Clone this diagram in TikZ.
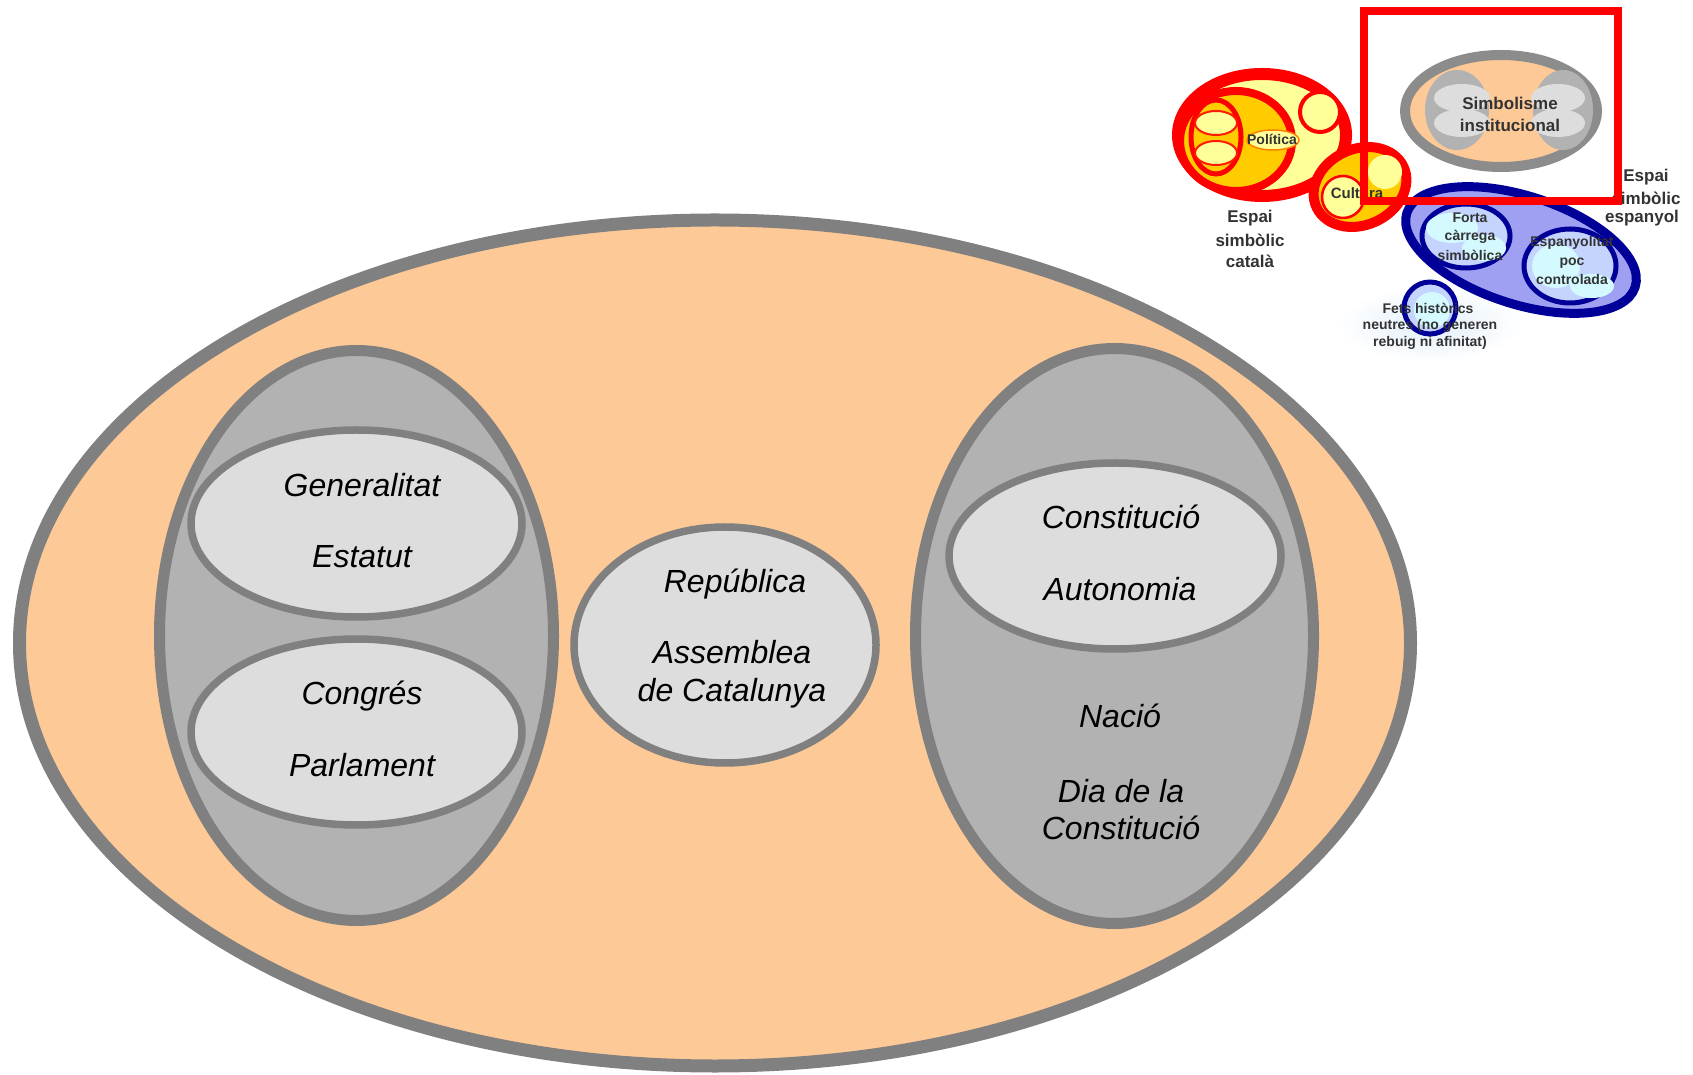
\documentclass[tikz,border=0pt]{standalone}
\usepackage{fontspec}
\setmainfont{Liberation Sans}
\definecolor{peach}{HTML}{FDC997}
\definecolor{midgrey}{HTML}{B2B2B2}
\definecolor{lightgrey}{HTML}{DDDDDD}
\definecolor{edgegrey}{HTML}{808080}
\definecolor{thumbgrey}{HTML}{8C8C8C}
\definecolor{lyellow}{HTML}{FFFF99}
\definecolor{dyellow}{HTML}{FFCC00}
\definecolor{navy}{HTML}{000099}
\definecolor{lblue}{HTML}{A0A0F2}
\definecolor{pblue}{HTML}{C4D4FF}
\definecolor{cyanish}{HTML}{D4FAFF}
\definecolor{haze}{HTML}{E2EFFA}
\definecolor{thumbtxt}{HTML}{333333}
\begin{document}
\begin{tikzpicture}[x=1pt,y=1pt,
  lbl/.style={font=\fontsize{32}{38}\selectfont\itshape, inner sep=0pt, text height=23pt, text depth=7pt},
  tlbl/.style={font=\fontsize{17}{20}\selectfont\bfseries, text=thumbtxt, inner sep=0pt},
  slbl/.style={font=\fontsize{14}{16}\selectfont\bfseries, text=thumbtxt, inner sep=0pt},
  outerell/.style={fill=peach, draw=edgegrey, line width=13pt},
  greyell/.style={fill=midgrey, draw=edgegrey, line width=11pt},
  lightell/.style={fill=lightgrey, draw=edgegrey, line width=7.5pt},
  redring/.style={draw=red, line width=#1},
  bluering/.style={draw=navy, line width=#1}]
\useasboundingbox (0,0) rectangle (1693,1074);
\fill[white] (0,0) rectangle (1693,1074);

% ---------- main diagram ----------
\draw[outerell] (715,431) ellipse [x radius=695.5pt, y radius=423pt];
\draw[greyell] (356.5,438.5) ellipse [x radius=197pt, y radius=285pt];
\draw[lightell] (356.5,550.5) ellipse [x radius=165.5pt, y radius=93.5pt];
\draw[lightell] (356.5,342) ellipse [x radius=165.5pt, y radius=93pt];
\draw[lightell] (725,429) ellipse [x radius=151pt, y radius=118pt];
\draw[greyell] (1114.5,438) ellipse [x radius=199pt, y radius=287.5pt];
\draw[lightell] (1115,518) ellipse [x radius=166pt, y radius=93pt];

\node[lbl] (gen) at (362,585) {Generalitat};
\node[lbl] (est) at (362,514) {Estatut};
\node[lbl] (con) at (362,377) {Congrés};
\node[lbl] (par) at (362,306) {Parlament};
\node[lbl] (rep) at (735,489) {República};
\node[lbl] (ass) at (732,418) {Assemblea};
\node[lbl] (dec) at (732,380) {de Catalunya};
\node[lbl] (cst) at (1121,553) {Constitució};
\node[lbl] (aut) at (1120,481) {Autonomia};
\node[lbl] (nac) at (1120,354) {Nació};
\node[lbl] (dia) at (1121,280) {Dia de la};
\node[lbl] (dcs) at (1121,243) {Constitució};

% ---------- thumbnail: Catalan symbolic space ----------
\draw[redring=12pt, fill=lyellow] (1262,939) ellipse [x radius=84pt, y radius=61pt];
\draw[redring=4pt, fill=lyellow] (1320,962) circle [radius=20pt];
\draw[redring=8pt, fill=dyellow] (1236,933) ellipse [x radius=56pt, y radius=50pt];
\draw[redring=5pt, fill=dyellow] (1216,937) ellipse [x radius=25pt, y radius=37pt];
\draw[draw=red!80!orange, line width=2pt, fill=lyellow] (1216,951) ellipse [x radius=21pt, y radius=12pt];
\draw[draw=red!80!orange, line width=2pt, fill=lyellow] (1216,921) ellipse [x radius=21pt, y radius=12pt];
\draw[draw=orange, line width=1.5pt, fill=lyellow] (1273,934) ellipse [x radius=26pt, y radius=10pt];
\draw[redring=10pt, fill=dyellow, shift={(1360,887)}, rotate=25] (0,0) ellipse [x radius=48pt, y radius=38pt];
\draw[redring=2.5pt, fill=lyellow] (1343,877) circle [radius=21pt];
\fill[lyellow] (1385,902) circle [radius=17pt];
\node[slbl] (pol) at (1272,935) {Política};
\node[slbl, font=\fontsize{15}{16}\selectfont\bfseries] (cul) at (1357,881) {Cultura};
\node[tlbl] (ec1) at (1250,856) {Espai};
\node[tlbl] (ec2) at (1250,834) {simbòlic};
\node[tlbl] (ec3) at (1250,813) {català};

% ---------- thumbnail: institutional symbolism ----------
\draw[draw=thumbgrey, line width=10pt, fill=peach] (1501,963) ellipse [x radius=96pt, y radius=56pt];
\fill[midgrey] (1457,964) ellipse [x radius=32pt, y radius=40pt];
\fill[lightgrey] (1462,976) ellipse [x radius=28pt, y radius=14pt];
\fill[lightgrey] (1462,951) ellipse [x radius=28pt, y radius=14pt];
\fill[midgrey] (1563,964) ellipse [x radius=30pt, y radius=40pt];
\fill[lightgrey] (1558,976) ellipse [x radius=27pt, y radius=14pt];
\fill[lightgrey] (1558,951) ellipse [x radius=27pt, y radius=14pt];
\node[tlbl, text=black!80] (si1) at (1510,971) {Simbolisme};
\node[tlbl, text=black!80] (si2) at (1510,949) {institucional};

% ---------- thumbnail: Spanish symbolic space ----------
\shade[inner color=haze, outer color=white] (1338,712) rectangle (1522,788);
\draw[bluering=9pt, fill=lblue, shift={(1521,824)}, rotate=-18] (0,0) ellipse [x radius=120pt, y radius=54pt];
\draw[bluering=5pt, fill=pblue] (1466,838) ellipse [x radius=44pt, y radius=32pt];
\fill[cyanish] (1452,846) ellipse [x radius=26pt, y radius=15pt];
\fill[cyanish] (1484,826) ellipse [x radius=22pt, y radius=13pt];
\draw[bluering=5pt, fill=pblue] (1570,808) ellipse [x radius=46pt, y radius=37pt];
\fill[cyanish] (1556,808) ellipse [x radius=24pt, y radius=22pt];
\fill[cyanish] (1592,788) ellipse [x radius=22pt, y radius=12pt];
\draw[bluering=5pt, fill=pblue] (1430,766) circle [radius=26pt];
\fill[cyanish] (1432,764) circle [radius=18pt];
\node[slbl] (fo1) at (1470,856) {Forta};
\node[slbl] (fo2) at (1470,837) {càrrega};
\node[slbl] (fo3) at (1470,819) {simbòlica};
\node[slbl] (es1) at (1572,831) {Espanyolitat};
\node[slbl] (es2) at (1572,811) {poc};
\node[slbl] (es3) at (1572,794) {controlada};
\node[slbl] (fe1) at (1428,766) {Fets històrics};
\node[slbl] (fe2) at (1430,748) {neutres (no generen};
\node[slbl] (fe3) at (1430,731) {rebuig ni afinitat)};
\node[tlbl] (ee1) at (1646,897) {Espai};
\node[tlbl] (ee2) at (1646,876) {simbòlic};
\node[tlbl] (ee3) at (1642,856) {espanyol};

% ---------- highlight box ----------
\draw[red, line width=8pt] (1364,1063) rectangle (1618,873);
\end{tikzpicture}
\end{document}
